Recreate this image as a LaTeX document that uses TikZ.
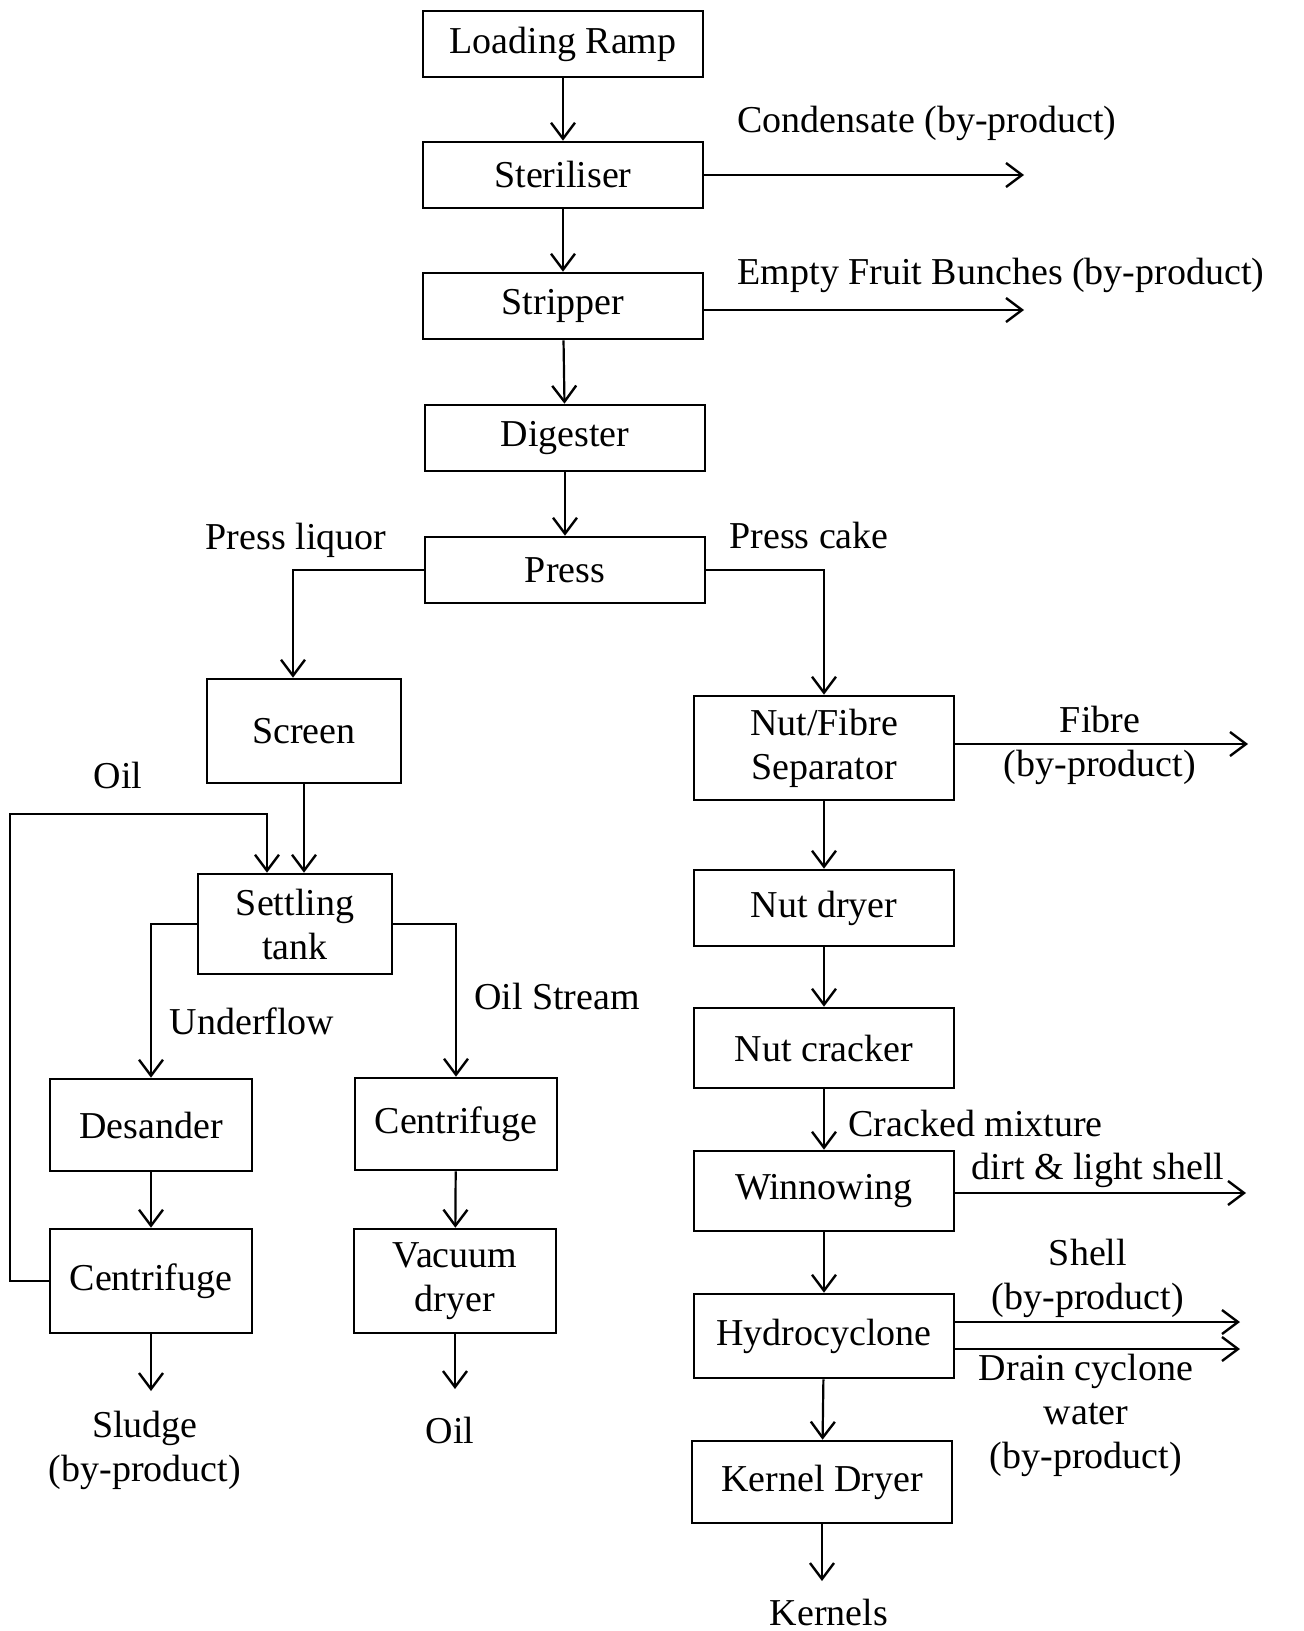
\documentclass[tikz,border=0pt]{standalone}
\usepackage{fontspec}
\setmainfont{Liberation Serif}
\usetikzlibrary{arrows.meta}

\begin{document}
\begin{tikzpicture}[x=0.5pt, y=-0.5pt,
  font=\fontsize{19}{22}\selectfont,
  blk/.style={draw, line width=1.3pt, align=center, inner sep=0pt},
  wide/.style={blk, minimum width=140pt, minimum height=33pt},
  mill/.style={blk, minimum width=130pt, minimum height=40pt},
  left/.style={blk, minimum width=101pt, minimum height=50pt},
  flow/.style={line width=1.1pt, -{Straight Barb[length=8pt, width=12pt, line width=1.2pt]}},
  txt/.style={align=center, inner sep=0pt}]
\useasboundingbox (0,0) rectangle (1303,1631);

\node[wide] (ramp) at (563,44) {Loading Ramp};
\node[wide] (ster) at (563,175) {Steriliser};
\node[wide] (strip) at (563,306) {Stripper};
\node[wide] (dig) at (565,438) {Digester};
\node[wide] (press) at (565,570) {Press};

\node[blk, minimum width=97pt, minimum height=52pt] (screen) at (304,731) {Screen};
\node[blk, minimum width=97pt, minimum height=50pt] (settle) at (295,924) {Settling\\tank};
\node[left, minimum height=46pt] (des) at (151,1125) {Desander};
\node[left, minimum height=46pt] (cen2) at (456,1124) {Centrifuge};
\node[left, minimum height=52pt] (cen1) at (151,1281) {Centrifuge};
\node[left, minimum height=52pt] (vac) at (455,1281) {Vacuum\\dryer};

\node[mill, minimum height=52pt] (nfs) at (824,748) {Nut/Fibre\\Separator};
\node[mill, minimum height=38pt] (ndry) at (824,908) {Nut dryer};
\node[mill] (crack) at (824,1048) {Nut cracker};
\node[mill] (winn) at (824,1191) {Winnowing};
\node[mill, minimum height=42pt] (hydro) at (824,1336) {Hydrocyclone};
\node[mill, minimum height=41pt] (kdry) at (822,1482) {Kernel Dryer};

\coordinate (condend) at (1024,175);
\coordinate (efbend) at (1024,310);
\coordinate (oilturn) at (10,814);
\coordinate (sludgeend) at (151,1391);
\coordinate (oilend) at (455,1389);
\coordinate (fibreend) at (1248,744);
\coordinate (dirtend) at (1246,1193);
\coordinate (shellend) at (1240,1322);
\coordinate (drainend) at (1240,1349);
\coordinate (kernend) at (822,1581);

\draw[flow] (ramp) -- (ster);
\draw[flow] (ster) -- (strip);
\draw[flow] (strip) -- (dig);
\draw[flow] (dig) -- (press);
\draw[flow] (ster.east) -- (condend);
\draw[flow] (strip.east |- efbend) -- (efbend);
\draw[flow] (press.west) -| ([xshift=-5.5pt]screen.north);
\draw[flow] (press.east) -| (nfs.north);
\draw[flow] (screen.south) -- (screen.south |- settle.north);
\draw[flow] (cen1.west) -| (oilturn) -| ([xshift=-14pt]settle.north);
\draw[flow] (settle.west) -| (des.north);
\draw[flow] (settle.east) -| (cen2.north);
\draw[flow] (des) -- (cen1);
\draw[flow] (cen2) -- (vac);
\draw[flow] (cen1.south) -- (sludgeend);
\draw[flow] (vac.south) -- (oilend);
\draw[flow] (nfs.east |- fibreend) -- (fibreend);
\draw[flow] (nfs) -- (ndry);
\draw[flow] (ndry) -- (crack);
\draw[flow] (crack) -- (winn);
\draw[flow] (winn.east |- dirtend) -- (dirtend);
\draw[flow] (winn) -- (hydro);
\draw[flow] (hydro.east |- shellend) -- (shellend);
\draw[flow] (hydro.east |- drainend) -- (drainend);
\draw[flow] (hydro) -- (kdry);
\draw[flow] (kdry.south) -- (kernend);

\node[txt] (condlbl) at (927,123) {Condensate (by-product)};
\node[txt] (efblbl) at (1001,275) {Empty Fruit Bunches (by-product)};
\node[txt] (liqlbl) at (296,540) {Press liquor};
\node[txt] (cakelbl) at (809,535) {Press cake};
\node[txt] (oillbl) at (118,775) {Oil};
\node[txt] (underlbl) at (252,1021) {Underflow};
\node[txt] (streamlbl) at (557,996) {Oil Stream};
\node[txt] (sludgelbl) at (145,1450) {Sludge\\(by-product)};
\node[txt] (oilout) at (450,1430) {Oil};
\node[txt] (fibrelbl) at (1100,745) {Fibre\\(by-product)};
\node[txt, anchor=west] (cracklbl) at (848,1123) {Cracked mixture};
\node[txt] (dirtlbl) at (1098,1170) {dirt \& light shell};
\node[txt] (shelllbl) at (1088,1278) {Shell\\(by-product)};
\node[txt] (drainlbl) at (1086,1415) {Drain cyclone\\water\\(by-product)};
\node[txt] (kernlbl) at (829,1612) {Kernels};
\end{tikzpicture}
\end{document}
